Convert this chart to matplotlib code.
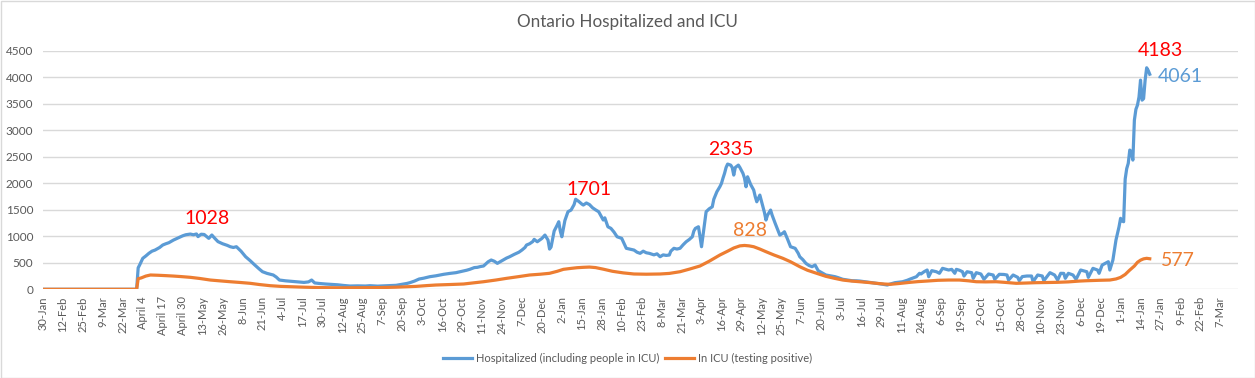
import numpy as np
import matplotlib
matplotlib.use("Agg")
from matplotlib import pyplot as plt
import matplotlib.patches as mpatches

plt.rcParams['font.family'] = ['Lato', 'DejaVu Sans']

# days since 30-Jan-2020
hosp_day = [0, 61, 62, 63, 65, 67, 69, 71, 73, 76, 78, 80, 82, 85, 88, 91, 93, 96, 98, 100,
            101, 103, 105, 108, 110, 112, 114, 117, 120, 122, 124, 126, 129, 132, 135, 138, 141, 143, 146, 150,
            152, 154, 158, 162, 165, 170, 173, 175, 177, 180, 184, 187, 192, 196, 200, 205, 210, 213, 218, 222,
            226, 230, 234, 237, 239, 242, 245, 248, 252, 256, 261, 265, 269, 273, 276, 278, 281, 283, 285, 287,
            290, 292, 294, 296, 299, 302, 304, 307, 310, 312, 314, 315, 317, 319, 320, 322, 325, 327, 329, 330,
            331, 333, 335, 336, 337, 338, 340, 342, 344, 346, 347, 349, 351, 352, 354, 356, 358, 360, 362, 365,
            366, 368, 370, 372, 374, 377, 378, 380, 382, 385, 387, 389, 391, 393, 395, 398, 400, 402, 404, 406,
            408, 409, 411, 413, 415, 417, 419, 421, 423, 424, 425, 427, 428, 429, 431, 432, 434, 436, 437, 439,
            441, 442, 443, 444, 445, 446, 448, 449, 450, 451, 453, 454, 456, 457, 458, 459, 461, 463, 464, 465,
            467, 469, 470, 471, 472, 474, 475, 477, 479, 480, 482, 483, 485, 487, 490, 492, 493, 495, 497, 499,
            501, 503, 505, 507, 510, 513, 516, 518, 521, 524, 527, 530, 532, 535, 538, 540, 543, 546, 548, 550,
            552, 555, 558, 560, 563, 565, 567, 569, 571, 572, 574, 576, 577, 579, 582, 584, 586, 588, 590, 592,
            594, 595, 597, 599, 600, 602, 605, 606, 608, 611, 613, 616, 619, 620, 623, 626, 628, 629, 632, 635,
            636, 638, 641, 644, 645, 648, 651, 652, 656, 659, 661, 663, 665, 666, 668, 671, 673, 676, 680, 681,
            684, 687, 688, 690, 694, 695, 697, 699, 701, 702, 703, 704, 705, 706, 707, 708, 709, 710, 711, 712,
            713, 714, 715, 716, 717, 718, 719, 720, 721]
hosp_val = [0, 0, 405, 462, 585, 630, 680, 720, 741, 790, 836, 860, 880, 930, 970, 1010, 1030, 1043, 1030, 1045,
            995, 1040, 1035, 962, 1025, 960, 900, 860, 830, 804, 790, 804, 720, 615, 540, 458, 380, 332, 300, 270,
            230, 175, 160, 150, 143, 130, 140, 175, 120, 110, 100, 95, 85, 72, 62, 65, 62, 68, 60, 65,
            70, 75, 95, 110, 125, 155, 194, 210, 238, 255, 283, 300, 314, 340, 360, 377, 410, 415, 430, 440,
            520, 553, 530, 490, 540, 590, 615, 660, 700, 741, 790, 836, 860, 900, 943, 898, 960, 1024, 930, 760,
            800, 1100, 1213, 1276, 1100, 992, 1300, 1465, 1496, 1600, 1701, 1660, 1610, 1591, 1630, 1600, 1540, 1500, 1465, 1308,
            1350, 1181, 1150, 1080, 992, 962, 900, 774, 760, 741, 700, 679, 720, 690, 679, 650, 670, 615, 650, 640,
            647, 720, 774, 760, 774, 840, 898, 940, 992, 1100, 1150, 1181, 1000, 804, 1250, 1465, 1520, 1558, 1700, 1842,
            1940, 2000, 2100, 2189, 2300, 2365, 2345, 2300, 2157, 2300, 2345, 2300, 2189, 2100, 1936, 2125, 1980, 1874, 1750, 1653,
            1779, 1559, 1450, 1308, 1400, 1496, 1400, 1245, 1100, 1024, 1060, 1087, 950, 804, 774, 680, 615, 560, 490, 450,
            427, 458, 352, 320, 270, 255, 238, 220, 189, 175, 162, 160, 156, 145, 132, 125, 113, 100, 90, 81,
            100, 125, 135, 143, 170, 194, 215, 238, 302, 290, 332, 364, 238, 352, 332, 302, 396, 380, 364, 377,
            302, 377, 360, 332, 251, 332, 314, 207, 314, 289, 189, 289, 270, 189, 283, 280, 270, 175, 270, 226,
            162, 240, 251, 251, 143, 270, 251, 162, 314, 270, 175, 302, 300, 207, 302, 270, 189, 364, 332, 226,
            396, 364, 302, 458, 521, 364, 553, 930, 1181, 1340, 1290, 1276, 2081, 2279, 2378, 2629, 2594, 2440, 3195, 3400,
            3478, 3630, 3950, 3572, 3600, 3950, 4183, 4132, 4061]

icu_day = [0, 61, 62, 64, 67, 70, 75, 80, 85, 90, 96, 102, 109, 115, 122, 128, 135, 141, 148, 155,
           161, 170, 180, 187, 195, 208, 220, 230, 243, 250, 256, 265, 274, 280, 287, 295, 302, 310, 317, 324,
           330, 335, 339, 344, 348, 352, 356, 360, 365, 371, 378, 385, 393, 402, 408, 415, 421, 428, 434, 441,
           446, 450, 454, 457, 460, 463, 467, 471, 476, 482, 487, 493, 498, 504, 510, 516, 521, 527, 532, 538,
           543, 548, 552, 558, 565, 570, 576, 583, 590, 597, 603, 608, 614, 621, 627, 634, 640, 647, 654, 661,
           668, 675, 680, 688, 695, 699, 702, 705, 708, 711, 713, 715, 717, 719, 721]
icu_val = [0, 0, 200, 215, 250, 270, 265, 258, 250, 240, 226, 205, 175, 160, 143, 130, 113, 90, 68, 55,
           49, 40, 33, 30, 28, 30, 33, 40, 55, 70, 81, 90, 100, 120, 143, 175, 207, 240, 270, 285,
           302, 340, 377, 395, 408, 415, 420, 410, 380, 340, 310, 289, 285, 289, 300, 332, 380, 440, 530, 648,
           720, 780, 820, 828, 820, 804, 760, 710, 650, 585, 520, 427, 360, 302, 245, 205, 175, 155, 143, 128,
           113, 100, 94, 110, 132, 145, 156, 170, 175, 175, 160, 143, 140, 143, 130, 113, 118, 125, 128, 132,
           140, 155, 162, 170, 175, 195, 225, 280, 364, 440, 510, 550, 575, 585, 577]

# x labels, one every 13 days
tick_labels = ['30-Jan', '12-Feb', '25-Feb', '9-Mar', '22-Mar', 'April 4', 'April 17', 'April 30',
               '13-May', '26-May', '8-Jun', '21-Jun', '4-Jul', '17-Jul', '30-Jul', '12-Aug', '25-Aug',
               '7-Sep', '20-Sep', '3-Oct', '16-Oct', '29-Oct', '11-Nov', '24-Nov', '7-Dec', '20-Dec',
               '2-Jan', '15-Jan', '28-Jan', '10-Feb', '23-Feb', '8-Mar', '21-Mar', '3-Apr', '16-Apr',
               '29-Apr', '12-May', '25-May', '7-Jun', '20-Jun', '3-Jul', '16-Jul', '29-Jul', '11-Aug',
               '24-Aug', '6-Sep', '19-Sep', '2-Oct', '15-Oct', '28-Oct', '10-Nov', '23-Nov', '6-Dec',
               '19-Dec', '1-Jan', '14-Jan', '27-Jan', '9-Feb', '22-Feb', '7-Mar']

# text labels: (text, day, value, colour)
callouts = [('1028', 106.6, 1345, 'red'),
            ('1701', 355.5, 1887, 'red'),
            ('2335', 448, 2647, 'red'),
            ('828', 460.6, 1119, '#ED7D31'),
            ('4183', 727.9, 4502, 'red'),
            ('4061', 740.7, 4012, '#5B9BD5'),
            ('577', 739.6, 540, '#ED7D31')]

blue = '#5B9BD5'
orange = '#ED7D31'
grey = '#595959'

fig = plt.figure(figsize=(12.55, 3.78), dpi=100)
ax = fig.add_axes([43 / 1255, 88.7 / 378, 1195 / 1255, 238.3 / 378])

ax.plot(hosp_day, hosp_val, color=blue, lw=2.3, solid_joinstyle='round',
        label='Hospitalized (including people in ICU)', zorder=3)
ax.plot(icu_day, icu_val, color=orange, lw=2.3, solid_joinstyle='round',
        label='In ICU (testing positive)', zorder=3)

ax.set_xlim(0, 778.5)
ax.set_ylim(0, 4500)
ax.set_yticks(np.arange(0, 4501, 500))
ax.set_xticks(np.arange(len(tick_labels)) * 13)
ax.set_xticklabels(tick_labels, rotation=90, fontsize=8, color=grey)
ax.tick_params(axis='y', labelsize=8.5, labelcolor=grey, length=0, pad=7)
ax.tick_params(axis='x', length=0, pad=5)
ax.grid(axis='y', color='#d9d9d9', lw=1)
ax.set_axisbelow(True)
for s in ax.spines.values():
    s.set_visible(False)

for txt, d, v, c in callouts:
    ax.text(d, v, txt, color=c, fontsize=14, ha='center', va='center')

fig.text(0.5, 1 - 22 / 378, 'Ontario Hospitalized and ICU', ha='center', va='center',
         fontsize=12.3, color=grey)
ax.legend(loc='center', bbox_to_anchor=(0.5, (378 - 358) / 378), bbox_transform=fig.transFigure,
          ncol=2, frameon=False, fontsize=8, labelcolor=grey, handlelength=2.6,
          handletextpad=0.4, columnspacing=0.5)

fig.add_artist(mpatches.Rectangle((0.5 / 1255, 0.5 / 378), 1 - 1 / 1255, 1 - 1 / 378,
                                  transform=fig.transFigure, fill=False, edgecolor='#d9d9d9', lw=1))

fig.savefig('out.png', dpi=100)
